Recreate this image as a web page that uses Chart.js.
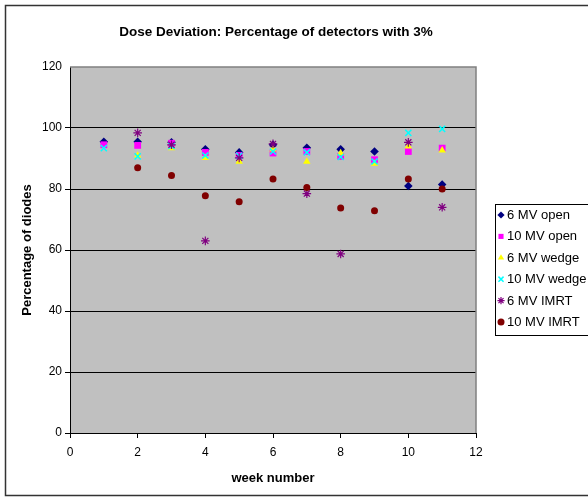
<!DOCTYPE html>
<html>
<head>
<meta charset="utf-8">
<script src="https://cdn.jsdelivr.net/npm/chart.js@4/dist/chart.umd.min.js"></script>
<style>
  html, body { margin: 0; padding: 0; background: #fff; overflow: hidden; }
  canvas { display: block; }
</style>
</head>
<body>
<canvas id="c" width="588" height="498"></canvas>
<script>
const TITLE = "Dose Deviation: Percentage of detectors with 3%";
const X_TITLE = "week number";
const Y_TITLE = "Percentage of diodes";

const weeks = [1, 2, 3, 4, 5, 6, 7, 8, 9, 10, 11];
const open6   = [95.5, 95.5, 95.3, 93.0, 92.0, 94.5, 93.5, 93.0, 92.3, 81.0, 81.5];
const open10  = [94.5, 94.3, 95.0, 92.0, 91.0, 91.8, 92.3, 90.7, 89.6, 92.3, 93.4];
const wedge6  = [null, 91.0, 93.4, 90.2, 89.0, 93.0, 89.0, 91.8, 88.3, 94.0, 92.7];
const wedge10 = [93.4, 90.7, 94.0, 91.0, 90.9, 92.3, 92.0, 90.5, 89.0, 98.4, 99.7];
const imrt6   = [null, 98.4, 94.5, 63.0, 90.2, 94.8, 78.5, 58.7, null, 95.3, 74.0];
const imrt10  = [null, 87.0, 84.4, 77.8, 75.8, 83.3, 80.5, 73.8, 72.9, 83.3, 80.0];

const FONT = "'Liberation Sans', Arial, sans-serif";

const C = {
  open6:   "#000080",
  open10:  "#ff00ff",
  wedge6:  "#ffff00",
  wedge10: "#00ffff",
  imrt6:   "#800080",
  imrt10:  "#800000",
  plot:    "#c0c0c0",
  frame:   "#808080",
};

function pts(vals) {
  return weeks.map((w, i) => ({ x: w, y: vals[i] })).filter(p => p.y != null);
}

function series(label, vals, color, style, radius, bw) {
  return {
    label,
    data: pts(vals),
    pointStyle: style,
    pointRadius: radius,
    pointHoverRadius: radius,
    backgroundColor: color,
    borderColor: color,
    pointBorderWidth: bw,
    showLine: false,
  };
}

const datasets = [
  series("6 MV open",   open6,   C.open6,   "rectRot",  4.3, 0),
  series("10 MV open",  open10,  C.open10,  "rect",     4.8, 0),
  series("6 MV wedge",  wedge6,  C.wedge6,  "triangle", 4.3, 0),
  series("10 MV wedge", wedge10, C.wedge10, "crossRot", 4.3, 1.5),
  series("6 MV IMRT",   imrt6,   C.imrt6,   "star",     4.3, 1.2),
  series("10 MV IMRT",  imrt10,  C.imrt10,  "circle",   3.5, 0),
];
// later series on top, like the original
datasets.forEach((d, i) => { d.order = datasets.length - i; });

// background, plot fill, outer frame, title
const frame = {
  id: "frame",
  beforeDraw(chart) {
    const { ctx, chartArea: a } = chart;
    ctx.save();
    ctx.fillStyle = "#fff";
    ctx.fillRect(0, 0, chart.width, chart.height);
    ctx.strokeStyle = "#333";
    ctx.lineWidth = 1.5;
    ctx.beginPath();
    ctx.moveTo(chart.width, 5.5);
    ctx.lineTo(5.5, 5.5);
    ctx.lineTo(5.5, 495.5);
    ctx.lineTo(chart.width, 495.5);
    ctx.stroke();
    ctx.fillStyle = C.plot;
    ctx.fillRect(a.left, a.top, a.right - a.left, a.bottom - a.top);
    ctx.fillStyle = "#000";
    ctx.font = `bold 13.5px ${FONT}`;
    ctx.textAlign = "center";
    ctx.textBaseline = "middle";
    ctx.fillText(TITLE, 276, 32);
    ctx.restore();
  },
  beforeDatasetsDraw(chart) {
    const { ctx, chartArea: a } = chart;
    ctx.save();
    ctx.strokeStyle = C.frame;
    ctx.lineWidth = 1.5;
    ctx.beginPath();
    ctx.moveTo(a.left, a.top);
    ctx.lineTo(a.right, a.top);
    ctx.lineTo(a.right, a.bottom);
    ctx.stroke();
    ctx.restore();
  },
};

// boxed legend at the right
const legendBox = {
  id: "legendBox",
  afterDraw(chart) {
    const { ctx } = chart;
    const bx = 495, by = 204, bw = 100, bh = 131;
    ctx.save();
    ctx.fillStyle = "#fff";
    ctx.fillRect(bx, by, bw, bh);
    ctx.strokeStyle = "#000";
    ctx.lineWidth = 1;
    ctx.strokeRect(bx + 0.5, by + 0.5, bw, bh);
    ctx.font = `13px ${FONT}`;
    ctx.textBaseline = "middle";
    ctx.textAlign = "left";
    chart.data.datasets.forEach((d, i) => {
      const y = 215 + i * 21.4;
      ctx.fillStyle = d.backgroundColor;
      ctx.strokeStyle = d.borderColor;
      ctx.lineWidth = d.pointBorderWidth || 1;
      Chart.helpers.drawPoint(ctx, {
        pointStyle: d.pointStyle,
        rotation: 0,
        radius: Math.min(d.pointRadius, 3.6),
        borderWidth: d.pointBorderWidth,
      }, 501, y);
      ctx.fillStyle = "#000";
      ctx.fillText(d.label, 507, y + 0.5);
    });
    ctx.restore();
  },
};

new Chart(document.getElementById("c"), {
  type: "scatter",
  data: { datasets },
  plugins: [frame, legendBox],
  options: {
    responsive: false,
    animation: false,
    layout: { padding: { top: 67, right: 112, bottom: 0, left: 0 } },
    plugins: {
      legend: { display: false },
      title: { display: false },
      tooltip: { enabled: false },
    },
    scales: {
      x: {
        type: "linear",
        min: 0,
        max: 12,
        afterFit: s => { s.height = 65; },
        ticks: { stepSize: 2, color: "#000", font: { family: FONT, size: 12 }, padding: 7 },
        grid: { drawOnChartArea: false, drawTicks: true, tickLength: 5, color: "#000" },
        border: { color: "#000", width: 1 },
        title: {
          display: true, text: X_TITLE, color: "#000",
          font: { family: FONT, size: 13, weight: "bold" },
          padding: { top: 0, bottom: 12 },
        },
      },
      y: {
        min: 0,
        max: 120,
        afterFit: s => { s.width = 70; },
        ticks: { stepSize: 20, color: "#000", font: { family: FONT, size: 12 }, padding: 3 },
        grid: {
          tickLength: 5,
          lineWidth: 1,
          color: c => (c.tick && c.tick.value === 120 ? "rgba(0,0,0,0)" : "#000"),
        },
        border: { color: "#000", width: 1 },
        title: {
          display: true, text: Y_TITLE, color: "#000",
          font: { family: FONT, size: 13, weight: "bold" },
          padding: { top: 20, bottom: 0 },
        },
      },
    },
  },
});
</script>
</body>
</html>
